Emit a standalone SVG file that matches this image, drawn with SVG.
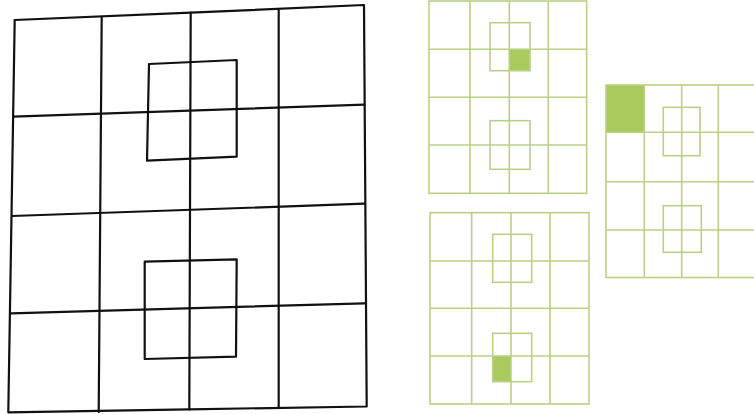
<svg xmlns="http://www.w3.org/2000/svg" width="754" height="414" viewBox="0 0 754 414">
<style>
.k{fill:none;stroke:#111;stroke-width:2.2;stroke-linejoin:round;stroke-linecap:round}
.g{fill:none;stroke:#bccf86;stroke-width:1.6}
.f{fill:#a9cb5e;stroke:none}
</style>
<rect width="754" height="414" fill="#fff"/>
<g id="big-grid">
<path class="k" d="M14.7,20 L190.7,12.7 L364,5 L366.7,406.5 L189.3,409.3 L8.3,412.3 Z"/>
<path class="k" d="M13.3,116.7 L364.3,104.7"/>
<path class="k" d="M12,216 L364.3,203.7"/>
<path class="k" d="M11,313.3 L364.5,303.3"/>
<path class="k" d="M101.7,17.3 L98.7,412"/>
<path class="k" d="M190.7,12.7 L189.3,409.3"/>
<path class="k" d="M278.7,9.3 L278.7,407.3"/>
<path class="k" d="M149,64 L236.7,60 L236.7,156.7 L147,160.7 Z"/>
<path class="k" d="M144.7,261.7 L236.7,259.3 L236,356.7 L144.7,359 Z"/>
</g>
<g id="green-grid-1">
<rect class="f" x="509.3" y="49.3" width="20.7" height="21.4"/>
<rect class="g" x="429" y="1" width="157.7" height="192.3"/>
<path class="g" d="M470,1V193.3M509.3,1V193.3M548.3,1V193.3M429,49.3H586.7M429,97.3H586.7M429,145H586.7"/>
<rect class="g" x="490" y="22.7" width="40" height="48"/>
<rect class="g" x="490" y="120.7" width="40" height="48.6"/>
</g>
<g id="green-grid-2">
<rect class="f" x="492.7" y="356" width="18.3" height="25.7"/>
<rect class="g" x="430" y="212.7" width="159" height="191.3"/>
<path class="g" d="M471.7,212.7V404M511,212.7V404M550,212.7V404M430,261H589M430,308.3H589M430,356H589"/>
<rect class="g" x="492.7" y="234.3" width="39" height="48"/>
<rect class="g" x="492.7" y="333.3" width="39" height="48.4"/>
</g>
<g id="green-grid-3">
<rect class="f" x="606" y="85" width="38.3" height="47.3"/>
<rect class="g" x="606" y="85" width="150" height="192.5"/>
<path class="g" d="M644.3,85V277.5M681.7,85V277.5M718.3,85V277.5M606,132.3H756M606,181.7H756M606,230H756"/>
<rect class="g" x="663.3" y="107.3" width="36.7" height="48.4"/>
<rect class="g" x="663.3" y="205.7" width="38" height="46.6"/>
</g>
<g id="connectors"></g>
</svg>
